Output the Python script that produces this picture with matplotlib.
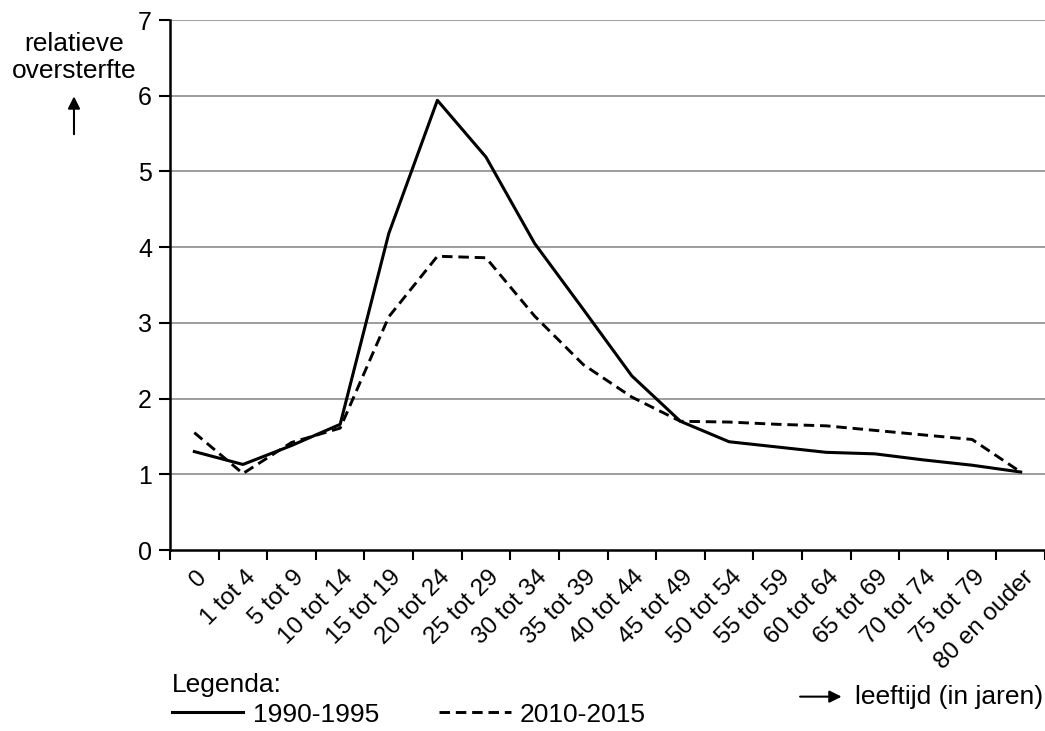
import matplotlib.pyplot as plt
import matplotlib.transforms as mtransforms
from matplotlib.patches import FancyArrowPatch
import numpy as np

plt.rcParams['font.family'] = ['Liberation Sans', 'DejaVu Sans']

categories = ['0', '1 tot 4', '5 tot 9', '10 tot 14', '15 tot 19', '20 tot 24',
              '25 tot 29', '30 tot 34', '35 tot 39', '40 tot 44', '45 tot 49',
              '50 tot 54', '55 tot 59', '60 tot 64', '65 tot 69', '70 tot 74',
              '75 tot 79', '80 en ouder']
oversterfte_1990 = [1.30, 1.13, 1.38, 1.66, 4.18, 5.94, 5.19, 4.05, 3.18, 2.30,
                    1.70, 1.43, 1.36, 1.29, 1.27, 1.19, 1.12, 1.03]
oversterfte_2010 = [1.55, 1.01, 1.42, 1.61, 3.08, 3.88, 3.86, 3.09, 2.45, 2.02,
                    1.70, 1.69, 1.66, 1.64, 1.58, 1.52, 1.46, 1.03]
yticks = [0, 1, 2, 3, 4, 5, 6, 7]

fig = plt.figure(figsize=(10.45, 7.31), dpi=100)
ax = fig.add_axes([0.1627, 0.2476, 0.8373, 0.725])

x = np.arange(len(categories))
ax.plot(x, oversterfte_1990, color='black', lw=2.2, label='1990-1995', zorder=3)
ax.plot(x, oversterfte_2010, color='black', lw=2.1, linestyle=(0, (3.6, 2.0)),
        label='2010-2015', zorder=3)

ax.set_xlim(-0.5, len(categories) - 0.5)
ax.set_ylim(0, 7)
ax.set_yticks(yticks)
ax.set_yticklabels([str(v) for v in yticks], fontsize=18)
for v in yticks[1:]:
    ax.axhline(v, color='#8c8c8c', lw=1.2, zorder=1)

# ticks between categories, labels at category centres
ax.set_xticks(np.arange(len(categories) + 1) - 0.5)
ax.set_xticklabels([])
ax.set_xticks(x, minor=True)
ax.set_xticklabels(categories, minor=True, rotation=45, ha='right', va='top',
                   rotation_mode='anchor', fontsize=17.5)
ax.tick_params(axis='x', which='minor', length=0, pad=11.5)
ax.tick_params(axis='x', which='major', length=7, width=1.5, direction='out')
ax.tick_params(axis='y', length=8, width=1.5, direction='out', pad=5)
shift = mtransforms.ScaledTranslation(0.015, 0, fig.dpi_scale_trans)
for lbl in ax.get_xticklabels(minor=True):
    lbl.set_transform(lbl.get_transform() + shift)

ax.spines['top'].set_visible(False)
ax.spines['right'].set_visible(False)
ax.spines['left'].set_linewidth(1.8)
ax.spines['bottom'].set_linewidth(1.8)

fig.text(0.0708, 0.921, 'relatieve\noversterfte', ha='center', va='center',
         fontsize=19, linespacing=1.15)
fig.add_artist(FancyArrowPatch(
    (0.0708, 0.8126), (0.0708, 0.872), transform=fig.transFigure,
    arrowstyle='-|>', mutation_scale=18, color='black', lw=1.5))

fig.add_artist(FancyArrowPatch(
    (0.763, 0.047), (0.808, 0.047), transform=fig.transFigure,
    arrowstyle='-|>', mutation_scale=18, color='black', lw=1.5))
fig.text(0.818, 0.047, 'leeftijd (in jaren)', ha='left', va='center', fontsize=19)

leg = fig.legend(loc='lower left', bbox_to_anchor=(0.152, -0.012), ncol=2,
                 frameon=False, fontsize=19, title='Legenda:', title_fontsize=19,
                 handlelength=2.7, handletextpad=0.35, columnspacing=2.3,
                 alignment='left', borderpad=0.0, labelspacing=0.2)

fig.savefig('out.png', dpi=100, facecolor='white')
